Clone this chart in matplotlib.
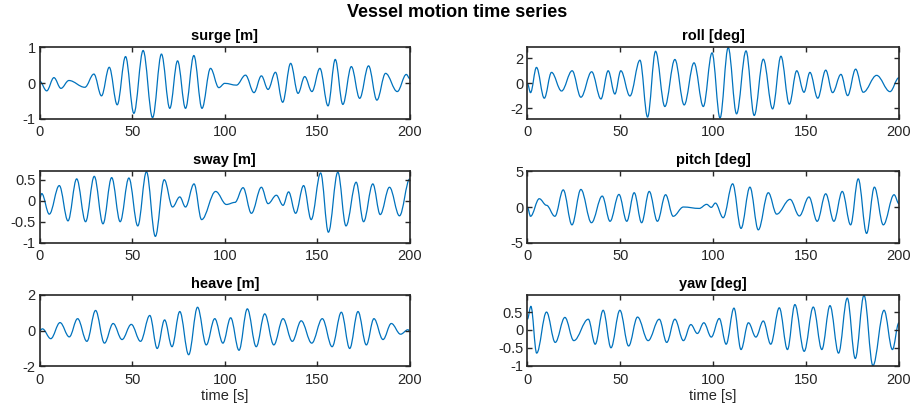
import matplotlib
matplotlib.use('Agg')
import matplotlib.pyplot as plt
from matplotlib.path import Path
from matplotlib.patches import PathPatch

plt.rcParams['font.family'] = 'Liberation Sans'
plt.rcParams['axes.unicode_minus'] = False

# peaks / troughs (time [s], value)
surge_t = [0, 3.8, 7.7, 11.5, 15.8, 24.4, 29.3, 33.4, 37.6, 41.9, 46.4, 50.9, 55.9, 61.0, 65.8, 70.3,
           74.5, 78.8, 83.3, 87.7, 92.3, 96.8, 100.0, 106.3, 111.2, 115.8, 119.8, 123.4, 127.4, 131.3,
           135.6, 139.6, 143.2, 147.1, 151.4, 155.8, 159.7, 163.8, 168.4, 172.9, 177.7, 182.2, 186.9,
           193.2, 198.1, 200]
surge_v = [0.05, -0.22, 0.15, -0.15, 0.07, -0.12, 0.25, -0.36, 0.44, -0.61, 0.74, -0.85, 0.91, -0.97,
           0.81, -0.71, 0.62, -0.71, 0.77, -0.71, 0.41, -0.13, -0.01, -0.06, 0.22, -0.27, 0.2, -0.18,
           0.3, -0.54, 0.55, -0.29, 0.18, -0.24, 0.41, -0.64, 0.66, -0.6, 0.46, -0.43, 0.48, -0.48,
           0.27, -0.24, 0.24, 0.12]

sway_t = [0, 1.1, 5.2, 10.6, 15.3, 20.0, 24.8, 29.5, 34.2, 38.9, 43.5, 48.2, 53.0, 57.7, 62.5, 67.3,
          71.8, 75.7, 78.8, 83.4, 87.5, 95.1, 100.9, 105.5, 109.9, 114.4, 119.8, 123.4, 127.9, 131.5,
          134.5, 138.3, 142.6, 146.7, 151.8, 156.0, 161.1, 165.5, 171.0, 175.0, 180.0, 184.0, 189.0,
          194.4, 200]
sway_v = [0.05, 0.17, -0.32, 0.36, -0.48, 0.52, -0.5, 0.58, -0.55, 0.55, -0.5, 0.54, -0.6, 0.69, -0.85,
          0.5, -0.15, 0.09, -0.15, 0.4, -0.45, 0.22, -0.09, -0.04, 0.31, -0.3, 0.32, -0.07, 0.13,
          -0.11, 0.21, -0.3, 0.36, -0.45, 0.66, -0.75, 0.68, -0.6, 0.44, -0.5, 0.4, -0.33, 0.32,
          -0.36, 0.52]

heave_t = [0, 1.5, 6, 11, 16, 20.5, 25.5, 30.2, 35, 39.7, 44.5, 49.5, 54.5, 59.5, 63.5, 67.5, 71.5,
           75.7, 80.5, 85.3, 90, 94.6, 99, 103.2, 107.7, 112.2, 117, 121.6, 126.5, 131.5, 136.5,
           141.3, 147, 152.7, 158, 163, 167.5, 172, 176.5, 180.6, 185.5, 190, 195, 199, 200]
heave_v = [0, 0.1, -0.45, 0.45, -0.35, 0.67, -0.6, 1.13, -0.7, 0.4, -0.5, 0.35, -0.6, 0.85, -1.0,
           0.6, -0.9, 1.07, -1.35, 1.31, -0.8, 0.67, -0.7, 0.72, -1.1, 1.22, -0.9, 0.94, -0.8, 0.67,
           -0.6, 0.55, -0.7, 0.67, -0.9, 1.03, -1.0, 1.07, -0.8, 0.67, -0.5, 0.4, -0.2, 0.05, -0.05]

roll_t = [0, 1.7, 4.9, 9.1, 13.0, 18.4, 24.1, 28.8, 34.6, 39.6, 43.5, 47.1, 50.3, 55.2, 60.6, 64.7,
          69.0, 74.0, 79.4, 84.4, 89.7, 94.7, 99.4, 103.7, 108.1, 112.6, 117.7, 122.1, 127.0, 132.0,
          136.5, 141.0, 145.0, 148.9, 152.1, 156.3, 160.6, 164.3, 168.8, 172.4, 176.7, 180.8, 188.0,
          195.2, 200]
roll_v = [0, -0.75, 1.28, -1.2, 0.88, -0.62, 1.01, -1.12, 0.93, -1.26, 1.01, -0.86, 1.01, -1.02,
          1.86, -2.72, 2.58, -1.87, 1.92, -1.74, 1.65, -1.87, 2.45, -2.8, 2.88, -2.46, 2.61, -2.59,
          1.94, -2.06, 2.18, -1.68, 1.01, -0.72, 0.88, -1.2, 1.06, -0.75, 0.72, -0.99, 1.14, -0.72,
          0.64, -0.67, 0.45]

pitch_t = [0, 1.7, 6.4, 10.3, 14.8, 19.3, 24.0, 28.8, 34.5, 40.3, 44.5, 49.3, 53.5, 57.5, 61.5, 65.6,
           70.0, 74.4, 78.5, 84, 92.5, 96.5, 99, 101.2, 105.4, 110.5, 115, 119.8, 124.3, 129.7, 134.2,
           141.4, 146.4, 151.6, 156, 160.6, 165, 169.5, 174, 178.1, 182.6, 186.8, 191.6, 197.4, 200]
pitch_v = [0, -1.3, 1.16, 0.24, -1.3, 2.4, -2.5, 2.46, -2.2, 1.53, -2.0, 1.76, -2.0, 2.0, -2.2, 2.18,
           -2.0, 1.72, -1.3, 0, -0.2, 0.37, -0.05, 0.55, -1.5, 3.25, -3.0, 2.78, -3.2, 2.0, -1.0,
           1.07, -1.25, 1.4, -2.0, 1.85, -2.0, 2.18, -2.5, 3.94, -3.7, 2.78, -2.5, 1.72, 0.47]

yaw_t = [0, 1.9, 5, 10.3, 15, 20.2, 25, 32.8, 36.5, 40.8, 45, 49.8, 54.5, 59.3, 65, 71, 75, 79.4, 84,
         88, 91.5, 95, 99, 103.3, 107, 111.2, 115, 119, 123, 127, 131, 135.6, 140, 144, 149, 153.9,
         158.5, 162.9, 167.5, 172.2, 176.5, 181.2, 186, 192, 196.5, 200]
yaw_v = [0.3, 0.66, -0.65, 0.5, -0.35, 0.35, -0.3, 0.3, -0.4, 0.55, -0.5, 0.55, -0.45, 0.36, -0.3, 0.3,
         -0.35, 0.3, -0.3, 0.15, -0.1, 0.2, -0.2, 0.32, -0.4, 0.61, -0.55, 0.2, -0.2, 0.25, -0.4,
         0.62, -0.55, 0.71, -0.6, 0.64, -0.55, 0.68, -0.65, 0.89, -0.8, 0.97, -1.0, 0.55, -0.55, 0.2]

titles = ['surge [m]', 'roll [deg]', 'sway [m]', 'pitch [deg]', 'heave [m]', 'yaw [deg]']
series = [(surge_t, surge_v), (roll_t, roll_v), (sway_t, sway_v),
          (pitch_t, pitch_v), (heave_t, heave_v), (yaw_t, yaw_v)]
ylims = [(-1, 1), (-2.85, 2.9), (-1, 0.7), (-5, 5), (-2, 2), (-1.02, 0.98)]
yticks = [[-1, 0, 1], [-2, 0, 2], [-1, -0.5, 0, 0.5], [-5, 0, 5], [-2, 0, 2], [-1, -0.5, 0, 0.5]]
xticks = [0, 50, 100, 150, 200]

line_color = '#0072BD'
ink = '#262626'


def smooth_path(t, v):
    # cubic bezier between consecutive extrema, flat tangents at each point
    verts = [(t[0], v[0])]
    codes = [Path.MOVETO]
    for i in range(1, len(t)):
        d = (t[i] - t[i - 1]) * 0.364
        verts += [(t[i - 1] + d, v[i - 1]), (t[i] - d, v[i]), (t[i], v[i])]
        codes += [Path.CURVE4] * 3
    return Path(verts, codes)


fig = plt.figure(figsize=(9.14, 4.15), dpi=100)
lefts = [0.0434, 0.577]
widths = [0.405, 0.4065]
bottoms = [0.714, 0.4152, 0.1173]
h = 0.172

for k in range(6):
    row, col = divmod(k, 2)
    ax = fig.add_axes([lefts[col], bottoms[row], widths[col], h])
    t, v = series[k]
    ax.add_patch(PathPatch(smooth_path(t, v), fill=False, edgecolor=line_color, lw=0.9))
    ax.set_xlim(0, 200)
    ax.set_ylim(*ylims[k])
    ax.set_xticks(xticks)
    ax.set_yticks(yticks[k])
    ax.set_yticklabels([('%g' % y) for y in yticks[k]])
    ax.set_title(titles[k], fontsize=10.5, fontweight='bold', pad=5, color='black')
    ax.tick_params(direction='in', length=3.5, width=1, labelsize=10.5,
                   top=True, right=True, colors=ink)
    ax.tick_params(axis='x', pad=4.5)
    ax.tick_params(axis='y', pad=3)
    for spine in ax.spines.values():
        spine.set_linewidth(1.2)
        spine.set_color(ink)
    if row == 2:
        ax.set_xlabel('time [s]', fontsize=10.5, labelpad=2, color=ink)

fig.suptitle('Vessel motion time series', fontsize=13, fontweight='bold', y=0.99)

fig.savefig('out.png', dpi=100)
